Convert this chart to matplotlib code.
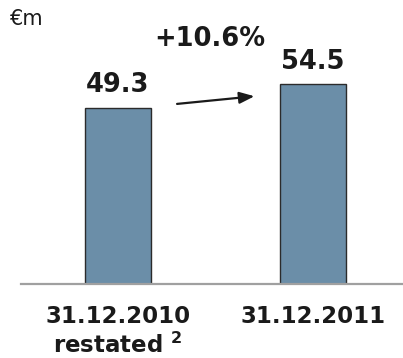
import matplotlib.pyplot as plt

# net values in EUR million
periods = ['31.12.2010\nrestated $^{\\mathbf{2}}$', '31.12.2011']
values = [49.3, 54.5]
value_labels = ['49.3', '54.5']
growth_label = '+10.6%'

fig = plt.figure(figsize=(4.03, 3.58), dpi=100)
ax = fig.add_axes([0.0514, 0.2059, 0.9486, 0.7941])

x = range(len(values))
ax.bar(x, values, width=0.338, color='#6b8ea8', edgecolor='#2b2b2b',
       linewidth=1.0, zorder=2)

ax.set_xlim(-0.499, 1.462)
ax.set_ylim(10, 73.2)

for xi, v, lab in zip(x, values, value_labels):
    ax.annotate(lab, (xi, v), xytext=(0, 11), textcoords='offset points',
                ha='center', va='baseline', fontsize=18.5, fontweight='bold',
                color='#1a1a1a')

# growth arrow between the bars
ax.annotate('', xy=(0.70, 51.8), xytext=(0.303, 50.1),
            arrowprops=dict(arrowstyle='-|>,head_length=0.9,head_width=0.35',
                            color='#1a1a1a', lw=1.6, shrinkA=0, shrinkB=0))
ax.text(0.472, 63.0, growth_label, ha='center', va='baseline', fontsize=18.5,
        fontweight='bold', color='#1a1a1a')

fig.text(10 / 403, 1 - 25 / 358, '€m', ha='left', va='baseline',
         fontsize=15, color='#1a1a1a')

ax.set_xticks(list(x))
ax.set_xticklabels(periods, fontsize=16.5, fontweight='bold', color='#1a1a1a',
                   linespacing=1.25)
ax.tick_params(axis='x', length=0, pad=15)
ax.set_yticks([])

for s in ['top', 'right', 'left']:
    ax.spines[s].set_visible(False)
ax.spines['bottom'].set_color('#a0a0a0')
ax.spines['bottom'].set_linewidth(1.6)

fig.savefig('out.png', dpi=100)
